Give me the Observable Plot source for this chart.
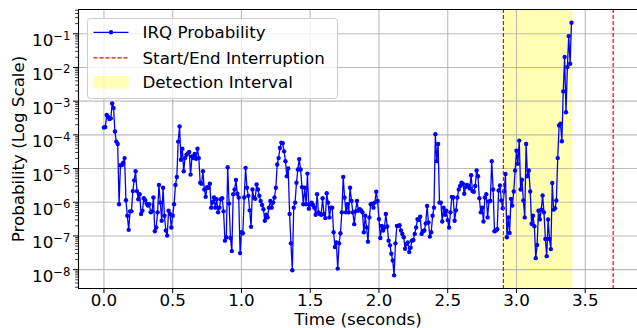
<!DOCTYPE html>
<html><head><meta charset="utf-8">
<script src="https://cdn.jsdelivr.net/npm/d3@7"></script>
<script src="https://cdn.jsdelivr.net/npm/@observablehq/plot@0.6"></script>
<style>
body{margin:0;background:#fff;}
#chart{width:637px;height:328px;overflow:hidden;}
</style></head><body><div id="chart"></div>
<script>
// frame step (seconds) between successive IRQ probability estimates
const frameStep = 0.01;
// log10 of IRQ probability, one per frame
const irqLog10 = [
 -3.78,-3.77,-3.41,-3.46,-3.53,-3.51,-3.07,-3.20,-3.90,-4.20,
 -4.27,-6.06,-4.90,-4.90,-4.83,-4.69,-5.94,-6.40,-6.82,-6.27,
 -6.27,-5.67,-5.35,-5.08,-5.67,-5.91,-5.76,-6.35,-6.25,-5.88,
 -5.94,-6.04,-6.10,-6.06,-6.30,-6.27,-5.86,-6.86,-6.75,-6.30,
 -5.49,-6.01,-6.55,-5.57,-6.40,-6.84,-6.99,-6.25,-6.35,-6.75,
 -6.40,-6.06,-5.49,-5.25,-4.20,-3.75,
 -4.74,-4.41,-5.08,-4.69,-4.59,-4.55,-4.51,-5.18,-4.64,-4.69,
 -4.57,-4.71,-4.41,-4.69,-5.42,-5.45,-5.08,-5.62,-5.84,-5.55,
 -5.57,-5.45,-6.16,-6.00,-5.86,-6.16,-5.91,-6.30,-6.16,-5.91,
 -5.88,-6.27,-7.14,-7.04,-4.96,-6.04,-7.06,-7.45,-5.76,-5.62,
 -5.34,-5.75,-5.86,-7.51,-6.89,-6.92,-5.86,-4.98,-5.57,-5.81,
 -6.24,-6.73,-5.62,-5.86,-5.90,-5.47,
 -5.62,-5.81,-5.96,-6.08,-6.21,-6.55,-6.37,-6.45,-6.16,-5.96,
 -6.16,-6.01,-5.86,-5.57,-4.88,-4.69,-4.39,-4.23,-4.25,-4.49,
 -4.78,-5.23,-5.00,-6.35,-7.22,-8.02,-6.16,-6.01,-5.42,-5.03,
 -4.72,-5.03,-5.55,-6.06,-5.57,-6.06,-5.15,-6.19,-6.06,-6.01,
 -6.08,-6.16,-6.37,-5.76,-6.30,-6.35,-6.37,-5.88,-6.35,-6.47,
 -5.73,-6.01,-6.45,-6.16,-6.16,-6.89,-7.33,-7.19,-7.97,
 -7.22,-6.92,-6.30,-5.25,-5.86,-6.30,-6.06,-6.30,-5.57,-5.96,
 -6.30,-6.65,-6.27,-5.96,-6.25,-6.21,-6.24,-6.30,-6.89,-6.40,
 -6.75,-7.17,-6.45,-6.06,-6.04,-6.16,-6.01,-5.69,-5.96,-6.50,
 -7.06,-6.70,-6.84,-6.75,-6.35,-6.72,-7.14,-7.28,-7.53,-7.73,
 -8.17,-7.22,-6.70,-6.70,-6.68,-6.84,-6.94,-7.04,-7.38,-7.24,
 -7.19,-7.48,-7.35,-7.14,-7.12,-6.94,-6.75,-6.50,
 -6.53,-6.43,-6.94,-6.86,-6.84,-6.63,-6.11,-6.60,-7.02,-6.89,
 -6.40,-6.16,-3.98,-4.78,-4.27,-6.01,-6.01,-6.57,-6.16,-6.37,
 -6.25,-6.53,-6.75,-6.30,-5.84,-5.86,-6.55,-6.24,-5.86,-5.62,
 -5.52,-5.42,-5.45,-5.75,-5.55,-5.49,-5.52,-5.59,-5.20,-5.67,
 -5.69,-5.52,-5.06,-5.23,-5.88,-6.30,-6.16,-6.57,-5.86,-5.76,
 -6.45,-5.98,-5.96,-4.78,-5.62,-6.86,-6.84,-6.80,
 -5.65,-5.50,-5.95,-6.18,-5.68,-5.16,-7.04,-6.45,-6.91,-5.90,
 -6.10,-5.68,-5.06,-4.47,-4.86,-4.17,-5.62,-5.33,-5.95,-6.45,
 -4.27,-5.23,-5.06,-5.68,-6.64,-6.40,-6.71,-7.66,-7.27,-6.25,
 -6.51,-6.22,-5.80,-6.30,-7.09,-7.60,-6.51,-7.09,-7.39,-5.43,
 -6.22,-6.18,-5.95,-4.69,-3.72,-3.67,-4.19,-2.71,-1.69,-3.33,
 -1.99,-1.07,-1.89,-0.67
];
const interruptionTimes = [2.905, 3.703];   // start / end of interruption
const detectionInterval = [2.905, 3.41];     // detection interval
const xTicks = [0, 0.5, 1.0, 1.5, 2.0, 2.5, 3.0, 3.5];
const yTickExponents = [-8, -7, -6, -5, -4, -3, -2, -1];
const legendLabels = ["IRQ Probability", "Start/End Interruption", "Detection Interval"];
const xLabel = "Time (seconds)";
const yLabel = "Probability (Log Scale)";

const data = irqLog10.map((v, i) => ({t: i * frameStep, p: Math.pow(10, v)}));
const xDomain = [-0.185, 3.880];
const yDomain = [Math.pow(10, -8.56), Math.pow(10, -0.28)];
const yTicks = yTickExponents.map(e => Math.pow(10, e));
const minorTicks = [];
for (let e = -9; e <= -1; e++) for (let m = 2; m <= 9; m++) {
  const v = m * Math.pow(10, e);
  if (v > yDomain[0] && v < yDomain[1]) minorTicks.push(v);
}
const font = "DejaVu Sans";
const fs = 16.7;

const plot = Plot.plot({
  width: 637, height: 328,
  marginLeft: 78, marginRight: 0, marginTop: 9, marginBottom: 40,
  style: {fontFamily: font, fontSize: fs + "px", background: "white", color: "black", overflow: "visible"},
  x: {domain: xDomain},
  y: {type: "log", domain: yDomain},
  marks: [
    Plot.rect([{x1: detectionInterval[0], x2: detectionInterval[1], y1: yDomain[0], y2: yDomain[1]}],
      {x1: "x1", x2: "x2", y1: "y1", y2: "y2", fill: "yellow", fillOpacity: 0.3}),
    Plot.gridX(xTicks, {stroke: "#b0b0b0", strokeOpacity: 0.85, strokeWidth: 1.1}),
    Plot.gridY(yTicks, {stroke: "#b0b0b0", strokeOpacity: 0.85, strokeWidth: 1.1}),
    Plot.line(data, {x: "t", y: "p", stroke: "#0000ff", strokeWidth: 1.3}),
    Plot.dot(data, {x: "t", y: "p", fill: "#0000ff", r: 2.2, stroke: null}),
    Plot.ruleX(interruptionTimes, {stroke: "red", strokeWidth: 1.2, strokeDasharray: "4,2"}),
    Plot.ruleX([xDomain[0]], {stroke: "black", strokeWidth: 1.1}),
    Plot.ruleY([yDomain[0], yDomain[1]], {stroke: "black", strokeWidth: 1.1}),
    Plot.axisX(xTicks, {tickFormat: d3.format(".1f"), tickSize: 5, tickPadding: 1, label: null}),
    Plot.axisY(minorTicks, {tickSize: 2.8, tickFormat: () => "", label: null, strokeWidth: 0.8}),
    Plot.axisY(yTicks, {tickSize: 5, tickPadding: 3, tickFormat: d => String(Math.round(Math.log10(d))), label: null}),
    Plot.text([xLabel], {frameAnchor: "bottom", dy: 31, lineAnchor: "middle", textAnchor: "middle", fontSize: fs}),
    Plot.text([yLabel], {frameAnchor: "left", dx: -59.6, rotate: -90, lineAnchor: "middle", textAnchor: "middle", fontSize: fs})
  ]
});

const svg = d3.select(plot);
// y tick labels as 10^e with superscript
svg.selectAll('g[aria-label="y-axis tick label"] text').each(function() {
  const s = this.textContent;
  if (!s) return;
  const e = +s;
  const t = d3.select(this);
  t.text(null);
  t.attr("dy", "0.42em");
  t.append("tspan").text("10");
  t.append("tspan").attr("dy", "-0.55em").attr("font-size", "70%").text("\u2212" + Math.abs(e));
});

// legend
const lg = svg.append("g").attr("font-family", font).attr("font-size", fs + "px").attr("text-anchor", "start");
lg.append("rect").attr("x", 87.5).attr("y", 18.5).attr("width", 250).attr("height", 80)
  .attr("rx", 3).attr("fill", "white").attr("fill-opacity", 0.8).attr("stroke", "#cccccc").attr("stroke-width", 1);
const rowsY = [32.3, 57.8, 82.3];
lg.append("line").attr("x1", 93.5).attr("x2", 128.5).attr("y1", rowsY[0]).attr("y2", rowsY[0])
  .attr("stroke", "#0000ff").attr("stroke-width", 1.3);
lg.append("circle").attr("cx", 111).attr("cy", rowsY[0]).attr("r", 2.2).attr("fill", "#0000ff");
lg.append("line").attr("x1", 93.5).attr("x2", 128.5).attr("y1", rowsY[1]).attr("y2", rowsY[1])
  .attr("stroke", "red").attr("stroke-width", 1.2).attr("stroke-dasharray", "4,2");
lg.append("rect").attr("x", 93.5).attr("y", 76).attr("width", 35).attr("height", 12.5)
  .attr("fill", "yellow").attr("fill-opacity", 0.3);
legendLabels.forEach((s, i) => {
  lg.append("text").attr("x", 142.5).attr("y", rowsY[i]).attr("dy", "0.36em").attr("fill", "black").attr("text-anchor", "start").text(s);
});

document.getElementById("chart").appendChild(plot);
</script>
</body></html>
